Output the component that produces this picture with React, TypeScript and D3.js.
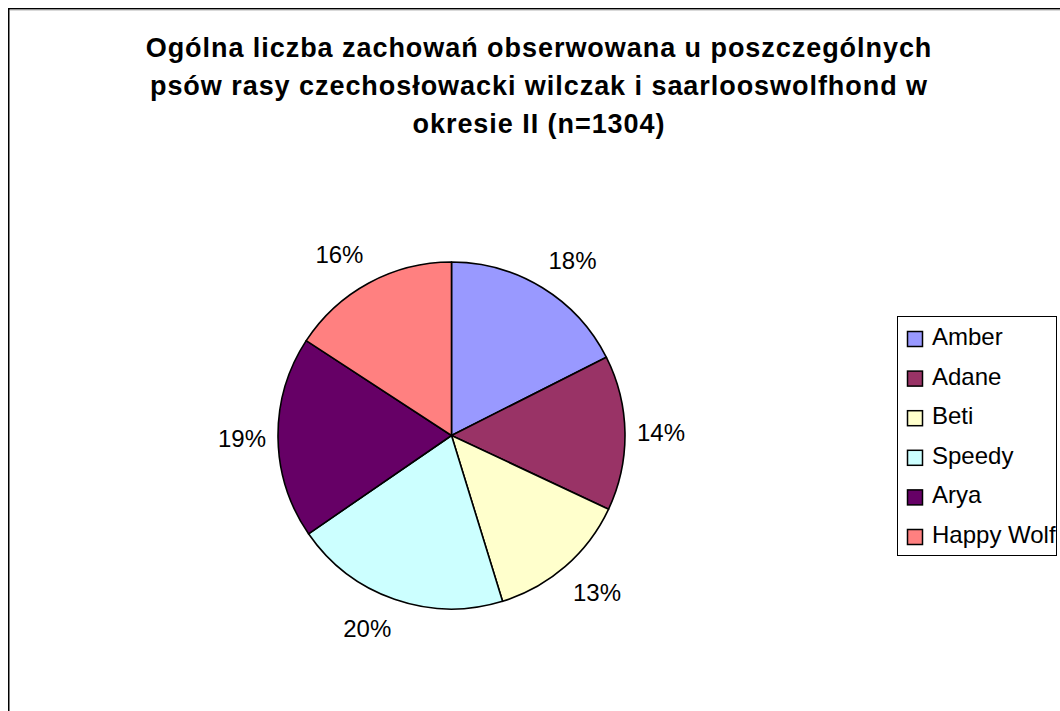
import React from "react";
import * as d3 from "d3";

const titleLines = [
  "Ogólna liczba zachowań obserwowana u poszczególnych",
  "psów rasy czechosłowacki wilczak i saarlooswolfhond w",
  "okresie II (n=1304)",
];
const dogs = ["Amber", "Adane", "Beti", "Speedy", "Arya", "Happy Wolf"];
const counts = [229, 188, 173, 263, 245, 206];
const colors = ["#9999FF", "#993366", "#FFFFCC", "#CCFFFF", "#660066", "#FF8080"];

const W = 1060;
const H = 711;
const FONT = "'Liberation Sans', Arial, sans-serif";

export default function App() {
  const cx = 451.5;
  const cy = 435.5;
  const r = 173.5;
  const total = d3.sum(counts);
  const data = dogs.map((d, i) => ({ name: d, value: counts[i], color: colors[i] }));
  const pie = d3.pie<any>().value((d: any) => d.value).sort(null);
  const arcs = pie(data);
  const arc = d3.arc<any>().innerRadius(0).outerRadius(r);
  const fmt = (v: number) => `${Math.round((v / total) * 100)}%`;
  const R0 = 186;
  const hw = 23.5;
  const hh = 17;
  const labelPos = (a: any) => {
    const t = (a.startAngle + a.endAngle) / 2;
    const s = Math.sin(t);
    const c = Math.cos(t);
    const ox = Math.sign(s) * Math.min(1, Math.abs(s) * 3) * hw;
    const oy = -Math.sign(c) * Math.min(1, Math.abs(c) * 3) * hh;
    return [R0 * s + ox, -R0 * c + oy];
  };

  return (
    <svg
      width={W}
      height={H}
      style={{ position: "absolute", left: 0, top: 0, background: "#fff" }}
      fontFamily={FONT}
    >
      <rect x={8.75} y={8.75} width={1200} height={900} fill="#fff" stroke="#000" strokeWidth={1.5} />
      <line x1={10} y1={10.2} x2={1200} y2={10.2} stroke="#c8c8c8" strokeWidth={1} />
      {titleLines.map((t, i) => (
        <text
          key={i}
          x={539}
          y={57 + i * 38}
          textAnchor="middle"
          fontSize={27}
          fontWeight="bold"
          letterSpacing={0.95}
          fill="#000"
        >
          {t}
        </text>
      ))}
      <g transform={`translate(${cx},${cy})`}>
        {arcs.map((a, i) => (
          <path key={i} d={arc(a) as string} fill={a.data.color} stroke="#000" strokeWidth={1.6} strokeLinejoin="round" />
        ))}
        {arcs.map((a, i) => {
          const [lx, ly] = labelPos(a);
          return (
            <text key={"l" + i} x={lx} y={ly} textAnchor="middle" dominantBaseline="central" fontSize={24} fill="#000">
              {fmt(a.data.value)}
            </text>
          );
        })}
      </g>
      <rect x={897.5} y={316.5} width={159} height={239} fill="#fff" stroke="#000" strokeWidth={1} />
      {data.map((d, i) => (
        <g key={d.name} transform={`translate(907,${331 + i * 39.6})`}>
          <rect x={0.5} y={0.5} width={15} height={15} fill={d.color} stroke="#000" strokeWidth={1.5} />
          <text x={25} y={14} fontSize={24} fill="#000">
            {d.name}
          </text>
        </g>
      ))}
    </svg>
  );
}
